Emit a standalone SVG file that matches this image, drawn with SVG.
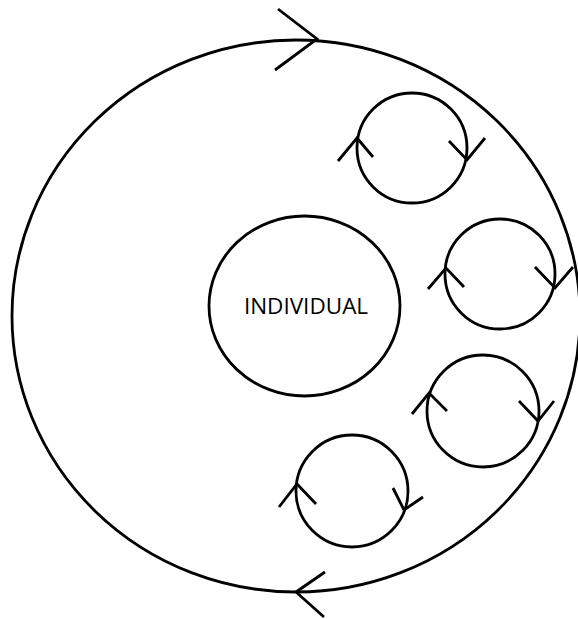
<svg xmlns="http://www.w3.org/2000/svg" width="578" height="619" viewBox="0 0 578 619">
<style>
.s{fill:none;stroke:#000;stroke-width:2.8;stroke-linecap:butt;stroke-linejoin:miter}
.t{font-family:"Open Sans","DejaVu Sans",sans-serif;font-size:22.5px;fill:#000;text-anchor:middle}
</style>
<rect width="578" height="619" fill="#fff"/>
<g id="outer-cycle">
<ellipse class="s" cx="296" cy="316" rx="284" ry="276"/>
</g>
<g id="individual">
<ellipse class="s" cx="304.5" cy="306" rx="95.5" ry="90"/>
<text class="t" x="306" y="314">INDIVIDUAL</text>
</g>
<g id="cycle1">
<circle class="s" cx="412" cy="148" r="55"/>
</g>
<g id="cycle2">
<circle class="s" cx="500" cy="274" r="55"/>
</g>
<g id="cycle3">
<circle class="s" cx="483" cy="411" r="56"/>
</g>
<g id="cycle4">
<circle class="s" cx="352" cy="491" r="56"/>
</g>
<g id="connectors">
<polyline class="s" points="278,9 317,39 275,70"/>
<polyline class="s" points="325,572 296,592 324,617"/>
<polyline class="s" points="338,161 357,138 373,157"/>
<polyline class="s" points="449,141 467,160 485,138"/>
<polyline class="s" points="428,289 446,268 464,287"/>
<polyline class="s" points="535,267 555,288 573,267"/>
<polyline class="s" points="412,414 429,393 447,411"/>
<polyline class="s" points="519,401 538,421 554,401"/>
<polyline class="s" points="279,507 297,484 316,504"/>
<polyline class="s" points="393,488 404,510 423,497"/>
</g>
</svg>
